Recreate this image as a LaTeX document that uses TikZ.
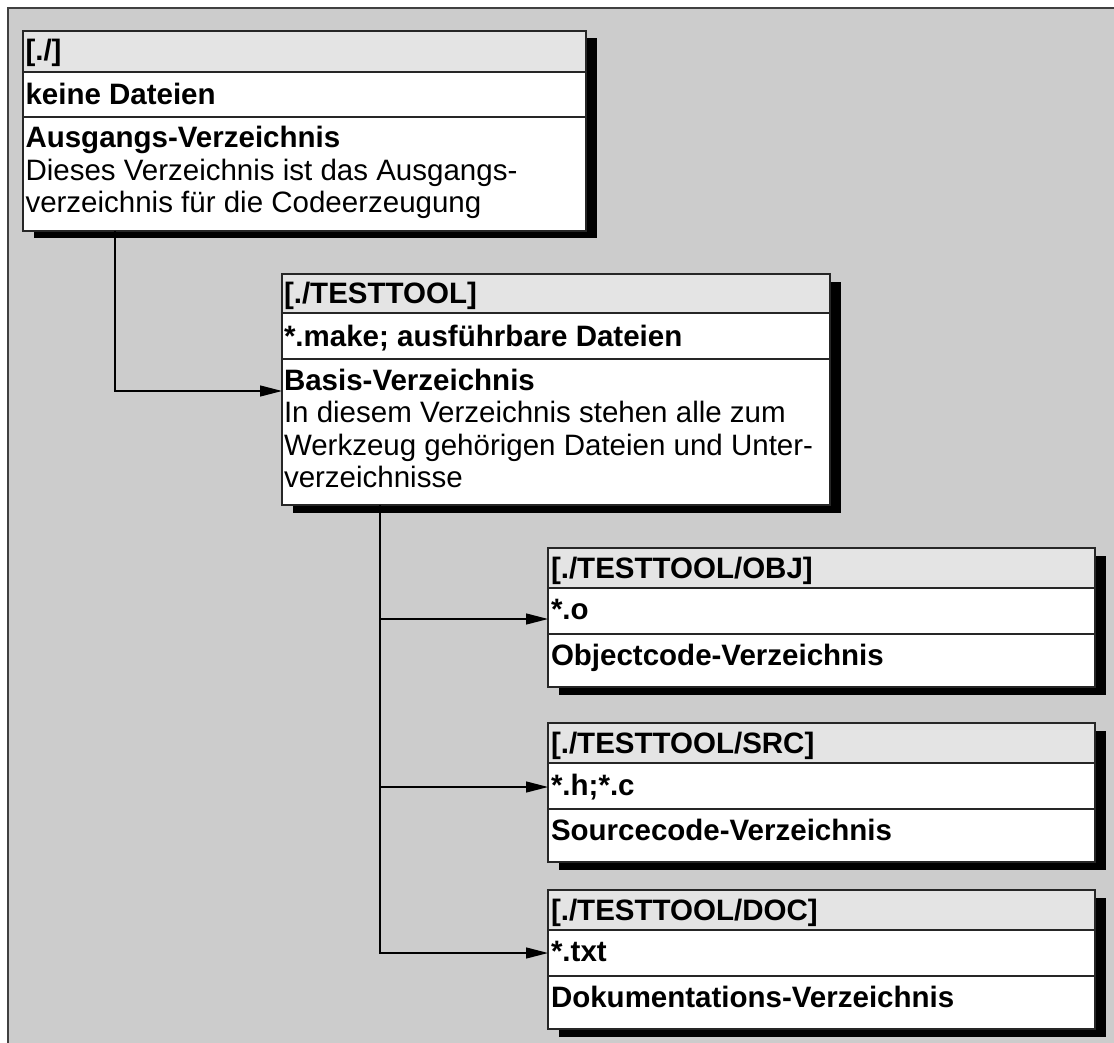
\documentclass[tikz,border=0pt]{standalone}
\usepackage{fontspec}
\setmainfont{Liberation Sans}
\usetikzlibrary{arrows.meta,shadows,calc}
\definecolor{bgray}{HTML}{CCCCCC}
\definecolor{hdfill}{HTML}{E4E4E4}
\definecolor{framecol}{HTML}{404040}
\tikzset{
  dirbox/.style={anchor=north west, inner sep=0pt, outer sep=0pt, fill=white,
    drop shadow={shadow xshift=10.5pt, shadow yshift=-7.5pt, fill=black, opacity=1}},
  sepline/.style={line width=1.5pt, black!85},
  borderline/.style={line width=1.2pt, black!85},
  conn/.style={line width=1.3pt, black, -{Triangle[length=22pt, width=11pt]}},
  txt/.style={anchor=base west, inner sep=0pt, outer sep=0pt, font=\fontsize{29.5}{32.5}\selectfont},
  btxt/.style={txt, font=\fontsize{29.5}{32.5}\selectfont\bfseries},
}
\newcommand\DirBox[7]{%
  \node[dirbox, minimum width=#4pt, minimum height=#5pt] (#1) at (#2,#3) {};
  \fill[hdfill] (#1.north west) rectangle ($(#1.north east)+(0,#6)$);
  \draw[sepline] ($(#1.north west)+(0,#6)$) -- ($(#1.north east)+(0,#6)$);
  \draw[sepline] ($(#1.north west)+(0,#7)$) -- ($(#1.north east)+(0,#7)$);
  \draw[borderline] (#1.north west) rectangle (#1.south east);
}
\begin{document}
\begin{tikzpicture}[x=1pt, y=-1pt]
\useasboundingbox (0,0) rectangle (1114,1043);
\fill[white] (0,0) rectangle (1114,1043);
\fill[bgray] (8,8) rectangle (1140,1060);
\draw[framecol, line width=2pt] (8,1060) -- (8,8) -- (1140,8);

% boxes
\DirBox{b1}{23}{31}{563}{200}{41}{86}
\DirBox{b2}{282}{274}{548}{231}{39}{85}
\DirBox{b3}{548}{548}{547}{139}{40}{86}
\DirBox{b4}{548}{723}{547}{139}{40}{86}
\DirBox{b5}{548}{890}{547}{139}{40}{86}

% texts box 1
\node[btxt] (t1a) at (25.5,61) {[./]};
\node[btxt] (t1b) at (25.5,105) {keine Dateien};
\node[btxt] (t1c) at (25.5,148) {Ausgangs-Verzeichnis};
\node[txt]  (t1d) at (25.5,180.5) {Dieses Verzeichnis ist das Ausgangs-};
\node[txt]  (t1e) at (25.5,213) {verzeichnis für die Codeerzeugung};

% texts box 2
\node[btxt] (t2a) at (284,303.5) {[./TESTTOOL]};
\node[btxt] (t2b) at (284,346) {*.make; ausführbare Dateien};
\node[btxt] (t2c) at (284,390) {Basis-Verzeichnis};
\node[txt]  (t2d) at (284,422.5) {In diesem Verzeichnis stehen alle zum};
\node[txt]  (t2e) at (284,455) {Werkzeug gehörigen Dateien und Unter-};
\node[txt]  (t2f) at (284,487.5) {verzeichnisse};

% texts box 3
\node[btxt] (t3a) at (551,578) {[./TESTTOOL/OBJ]};
\node[btxt] (t3b) at (551,619) {*.o};
\node[btxt] (t3c) at (551,665.5) {Objectcode-Verzeichnis};

% texts box 4
\node[btxt] (t4a) at (551,753) {[./TESTTOOL/SRC]};
\node[btxt] (t4b) at (551,795) {*.h;*.c};
\node[btxt] (t4c) at (551,840.5) {Sourcecode-Verzeichnis};

% texts box 5
\node[btxt] (t5a) at (551,920) {[./TESTTOOL/DOC]};
\node[btxt] (t5b) at (551,961) {*.txt};
\node[btxt] (t5c) at (551,1007) {Dokumentations-Verzeichnis};

% connector anchors
\coordinate (in2) at ($(b2.north west)+(0,117)$);
\coordinate (in3) at ($(b3.north west)+(0,71)$);
\coordinate (in4) at ($(b4.north west)+(0,64)$);
\coordinate (in5) at ($(b5.north west)+(0,63)$);
\coordinate (v1) at ($(b1.south west)+(92,0)$);
\coordinate (v2) at ($(b2.south west)+(98,0)$);

% connectors
\draw[conn] (v1) |- (in2);
\draw[conn] (v2) |- (in5);
\draw[conn] (v2 |- in3) -- (in3);
\draw[conn] (v2 |- in4) -- (in4);
\end{tikzpicture}
\end{document}
